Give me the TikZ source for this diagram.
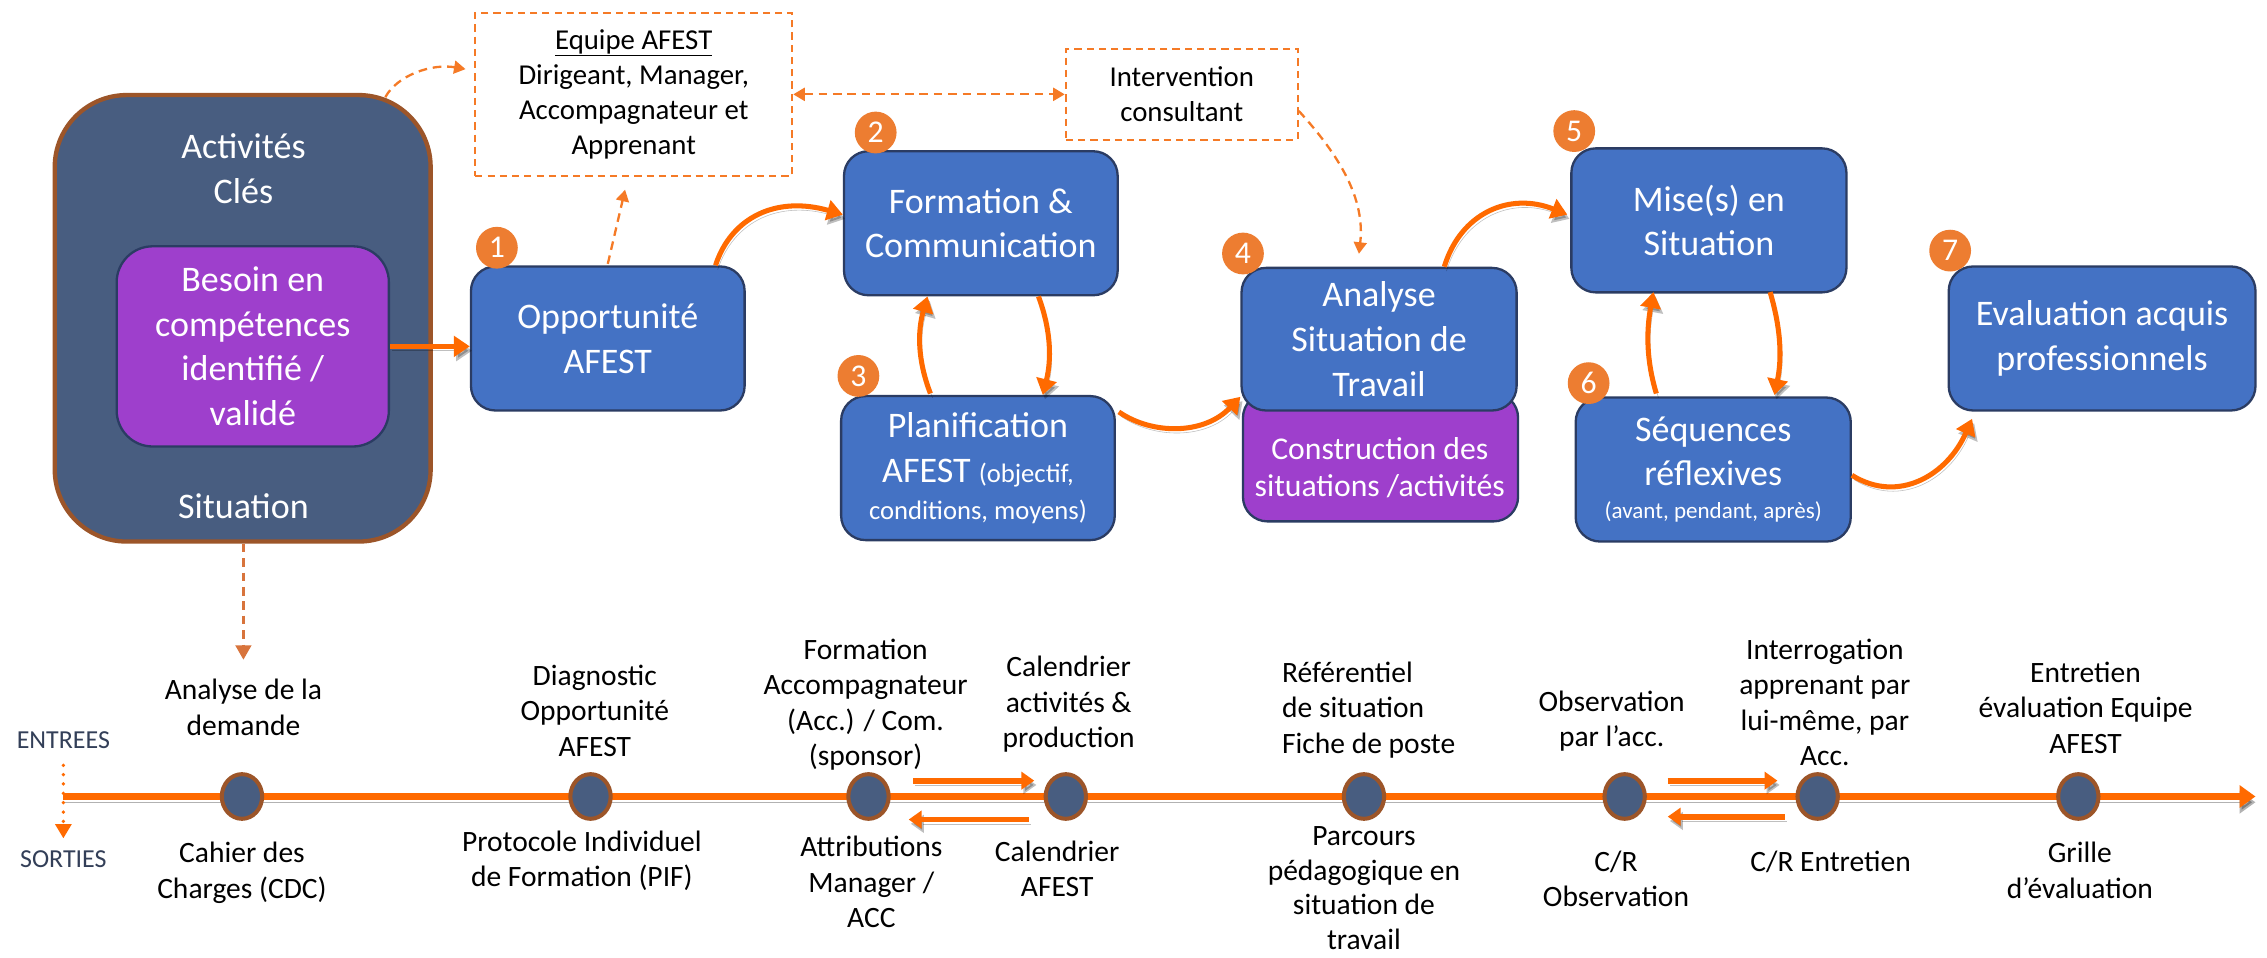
\documentclass[tikz,border=0pt]{standalone}
\usepackage{fontspec}
\setmainfont{Carlito}
\usetikzlibrary{arrows.meta,calc,shapes.geometric}
\definecolor{boxblue}{HTML}{4472C4}
\definecolor{boxedge}{HTML}{2B3C63}
\definecolor{purp}{HTML}{9E3FCC}
\definecolor{slate}{HTML}{485D80}
\definecolor{brownedge}{HTML}{9C5529}
\definecolor{orng}{HTML}{FF6A00}
\definecolor{numor}{HTML}{ED7D31}
\definecolor{dashor}{HTML}{F57A26}
\definecolor{dashbr}{HTML}{D8743C}
\definecolor{labgray}{HTML}{333F58}
\begin{document}
\begin{tikzpicture}[x=1pt,y=-1pt,
  bluebox/.style={draw=boxedge,line width=1.6pt,fill=boxblue,rounded corners=17pt,text=white,align=center,font=\fontsize{25}{31}\selectfont,inner sep=0pt},
  purpbox/.style={draw=boxedge,line width=1.6pt,fill=purp,rounded corners=17pt,text=white,align=center,inner sep=0pt},
  darkbox/.style={draw=brownedge,line width=3pt,fill=slate,rounded corners=50pt,inner sep=0pt},
  dashbox/.style={draw=dashor,line width=1.5pt,dash pattern=on 5pt off 3.5pt,fill=white,align=center,font=\fontsize{20}{24.5}\selectfont,inner sep=0pt},
  numc/.style={circle,fill=numor,text=white,minimum size=29pt,inner sep=0pt,font=\fontsize{22}{22}\selectfont},
  tdot/.style={ellipse,draw=brownedge,line width=2.8pt,fill=slate,minimum width=28pt,minimum height=31pt,inner sep=0pt},
  wtext/.style={text=white,align=center,anchor=base,inner sep=0pt},
  tltext/.style={align=center,anchor=base,inner sep=0pt,font=\fontsize{20.5}{24.5}\selectfont},
  shad/.style={preaction={draw=black,opacity=.25,transform canvas={shift={(1.5pt,-3pt)}}}},
  arr/.style={draw=orng,line width=3.5pt,-{Triangle[length=11pt,width=14pt]},shad},
  sarr/.style={draw=orng,line width=4pt,-{Triangle[length=9pt,width=12pt]},shad},
  darr/.style={draw=dashor,line width=1.6pt,dash pattern=on 6pt off 4pt,-{Triangle[length=8pt,width=9pt]}},
]
\fill[white] (0,0) rectangle (1574,665);
\useasboundingbox (0,0) rectangle (1574,665);

% ---- top boxes
\node[darkbox,minimum width=261pt,minimum height=310pt] (act) at (168.5,221) {};
\node[wtext,font=\fontsize{25}{31}\selectfont] (actt) at (169,141) {Activités\\Clés};
\node[wtext,font=\fontsize{25}{31}\selectfont] (sitt) at (169,360) {Situation};
\node[purpbox,rounded corners=25pt,minimum width=189pt,minimum height=139pt,font=\fontsize{25}{31}\selectfont] (besoin) at (175.5,240.5) {Besoin en\\compétences\\identifié /\\validé};

\node[dashbox,minimum width=220pt,minimum height=113pt] (equipe) at (440,65.5) {\underline{Equipe AFEST}\\Dirigeant, Manager,\\Accompagnateur et\\Apprenant};
\node[dashbox,minimum width=161pt,minimum height=63pt] (interv) at (820.5,65.5) {Intervention\\consultant};

\node[bluebox,minimum width=190pt,minimum height=100pt] (opp) at (422,235) {Opportunité\\AFEST};
\node[bluebox,minimum width=190pt,minimum height=100pt] (form) at (681,155) {Formation \&\\Communication};
\node[bluebox,minimum width=190pt,minimum height=100pt] (plan) at (679,325) {Planification\\AFEST {\fontsize{18.5}{24}\selectfont(objectif,}\\[-5pt]{\fontsize{18.5}{24}\selectfont conditions, moyens)}};
\node[purpbox,minimum width=191pt,minimum height=89pt] (constr) at (958.5,317.5) {};
\node[bluebox,minimum width=191pt,minimum height=99pt] (ana) at (957.5,235.5) {Analyse\\Situation de\\Travail};
\node[wtext,font=\fontsize{22}{26}\selectfont] (constrt) at (958,345) {Construction des\\situations /activités};
\node[bluebox,minimum width=191pt,minimum height=100pt] (mise) at (1186.5,153) {Mise(s) en\\Situation};
\node[bluebox,minimum width=191pt,minimum height=100pt] (seq) at (1189.5,326) {Séquences\\réflexives\\[-8pt]{\fontsize{16}{20}\selectfont (avant, pendant, après)}};
\node[bluebox,minimum width=213pt,minimum height=100pt] (eval) at (1459.5,235) {Evaluation acquis\\professionnels};

\node[numc] (n1) at (345,172) {1};
\node[numc] (n2) at (608,92) {2};
\node[numc] (n3) at (596,261) {3};
\node[numc] (n4) at (863,176) {4};
\node[numc] (n5) at (1093,91) {5};
\node[numc] (n6) at (1103,266) {6};
\node[numc] (n7) at (1354,174) {7};

% ---- solid arrows
\draw[arr] (besoin.east) -- (besoin.east -| opp.west);
\draw[arr] ($(opp.north east)+(-21,0)$) .. controls (508,150) and (540,136) .. ($(form.west)+(0,-6)$);
\draw[arr] ($(form.south)+(40,0)$) .. controls (730,230) and (730,250) .. ($(plan.north)+(45,0)$);
\draw[arr] ($(plan.north)+(-33,-1)$) .. controls (637,250) and (637,230) .. ($(form.south)+(-37,0)$);
\draw[arr] ($(plan.east)+(2,-39)$) .. controls (800,302) and (836,302) .. ($(ana.west)+(0,40)$);
\draw[arr] ($(ana.north east)+(-51,0)$) .. controls (1014,148) and (1048,133) .. ($(mise.west)+(-2,-4)$);
\draw[arr] ($(mise.south)+(42.5,-1)$) .. controls (1237,230) and (1237,250) .. ($(seq.north)+(42.5,-1)$);
\draw[arr] ($(seq.north)+(-39.5,-2)$) .. controls (1143,250) and (1143,230) .. ($(mise.south)+(-38.5,-1)$);
\draw[arr] ($(seq.east)+(0,4)$) .. controls (1318,350) and (1352,330) .. ($(eval.south west)+(17,5)$);

% ---- dashed arrows
\draw[darr] ($(act.north east)+(-33,3)$) .. controls (276,52) and (300,44) .. ($(equipe.west)+(-6,-17.5)$);
\draw[darr] ($(opp.north)+(0,-1)$) -- ($(equipe.south)+(-6,9)$);
\draw[darr,{Triangle[length=8pt,width=9pt]}-{Triangle[length=8pt,width=9pt]}] (equipe.east) -- (interv.west);
\draw[darr] ($(interv.east)+(0,11.5)$) .. controls (930,108) and (948,138) .. ($(ana.north)+(-14,-9)$);
\coordinate (demtip) at (169,458);
\draw[darr,draw=dashbr,-{Triangle[length=10pt,width=11pt]}] (act.south -| demtip) -- (demtip);

% ---- timeline
\node[anchor=base,text=labgray,inner sep=0pt,font=\fontsize{18}{20}\selectfont] (entr) at (44,520) {ENTREES};
\node[anchor=base,text=labgray,inner sep=0pt,font=\fontsize{18}{20}\selectfont] (sort) at (44,602) {SORTIES};
\coordinate (tlstart) at (44,553);
\coordinate (tlend) at (1566,553);
\draw[draw=orng,line width=4.2pt,-{Triangle[length=11pt,width=15pt]},preaction={draw=black,opacity=.3,transform canvas={shift={(0pt,-4pt)}}}] (tlstart) -- (tlend);
\draw[draw=orng,line width=2.6pt,line cap=round,dash pattern=on 0pt off 6.5pt,-{Triangle[length=10pt,width=11pt]}] ($(entr.south)+(0,11)$) -- ($(sort.north)+(0,-8)$);

\node[tdot] (c1) at (168,553) {};
\node[tdot] (c2) at (410,553) {};
\node[tdot] (c3) at (603,553) {};
\node[tdot] (c4) at (740,553) {};
\node[tdot] (c5) at (947,553) {};
\node[tdot] (c6) at (1128,553) {};
\node[tdot] (c7) at (1262,553) {};
\node[tdot] (c8) at (1443,553) {};

\draw[sarr] ($(c3.east)+(15.5,-11)$) -- ($(c4.west)+(-6.5,-11)$);
\draw[sarr] ($(c4.west)+(-10.5,16)$) -- ($(c3.east)+(12.5,16)$);
\draw[sarr] ($(c6.east)+(14.5,-11)$) -- ($(c7.west)+(-12.5,-11)$);
\draw[sarr] ($(c7.west)+(-7.5,14)$) -- ($(c6.east)+(14.5,14)$);

\node[tltext] (u1) at (169,510.5) {Analyse de la\\demande};
\node[tltext] (u2) at (413,525) {Diagnostic\\Opportunité\\AFEST};
\node[tltext] (u3) at (601,531.5) {Formation\\Accompagnateur\\(Acc.) / Com.\\(sponsor)};
\node[tltext] (u4) at (742,519) {Calendrier\\activités \&\\production};
\node[tltext,align=left,anchor=base west] (u5) at (890,523) {Référentiel\\de situation\\Fiche de poste};
\node[tltext] (u6) at (1119,518.5) {Observation\\par l’acc.};
\node[tltext] (u7) at (1267,531.5) {Interrogation\\apprenant par\\lui-même, par\\Acc.};
\node[tltext] (u8) at (1448,523) {Entretien\\évaluation Equipe\\AFEST};

\node[tltext] (d1) at (168,623.5) {Cahier des\\Charges (CDC)};
\node[tltext] (d2) at (404,615.5) {Protocole Individuel\\de Formation (PIF)};
\node[tltext] (d3) at (605,644) {Attributions\\Manager /\\ACC};
\node[tltext] (d4) at (734,622.5) {Calendrier\\AFEST};
\node[tltext,font=\fontsize{20.5}{24}\selectfont] (d5) at (947,659) {Parcours\\pédagogique en\\situation de\\travail};
\node[tltext] (d6) at (1122,629.5) {C/R\\Observation};
\node[tltext] (d7) at (1271,605) {C/R Entretien};
\node[tltext] (d8) at (1444,623.5) {Grille\\d’évaluation};
\end{tikzpicture}
\end{document}
